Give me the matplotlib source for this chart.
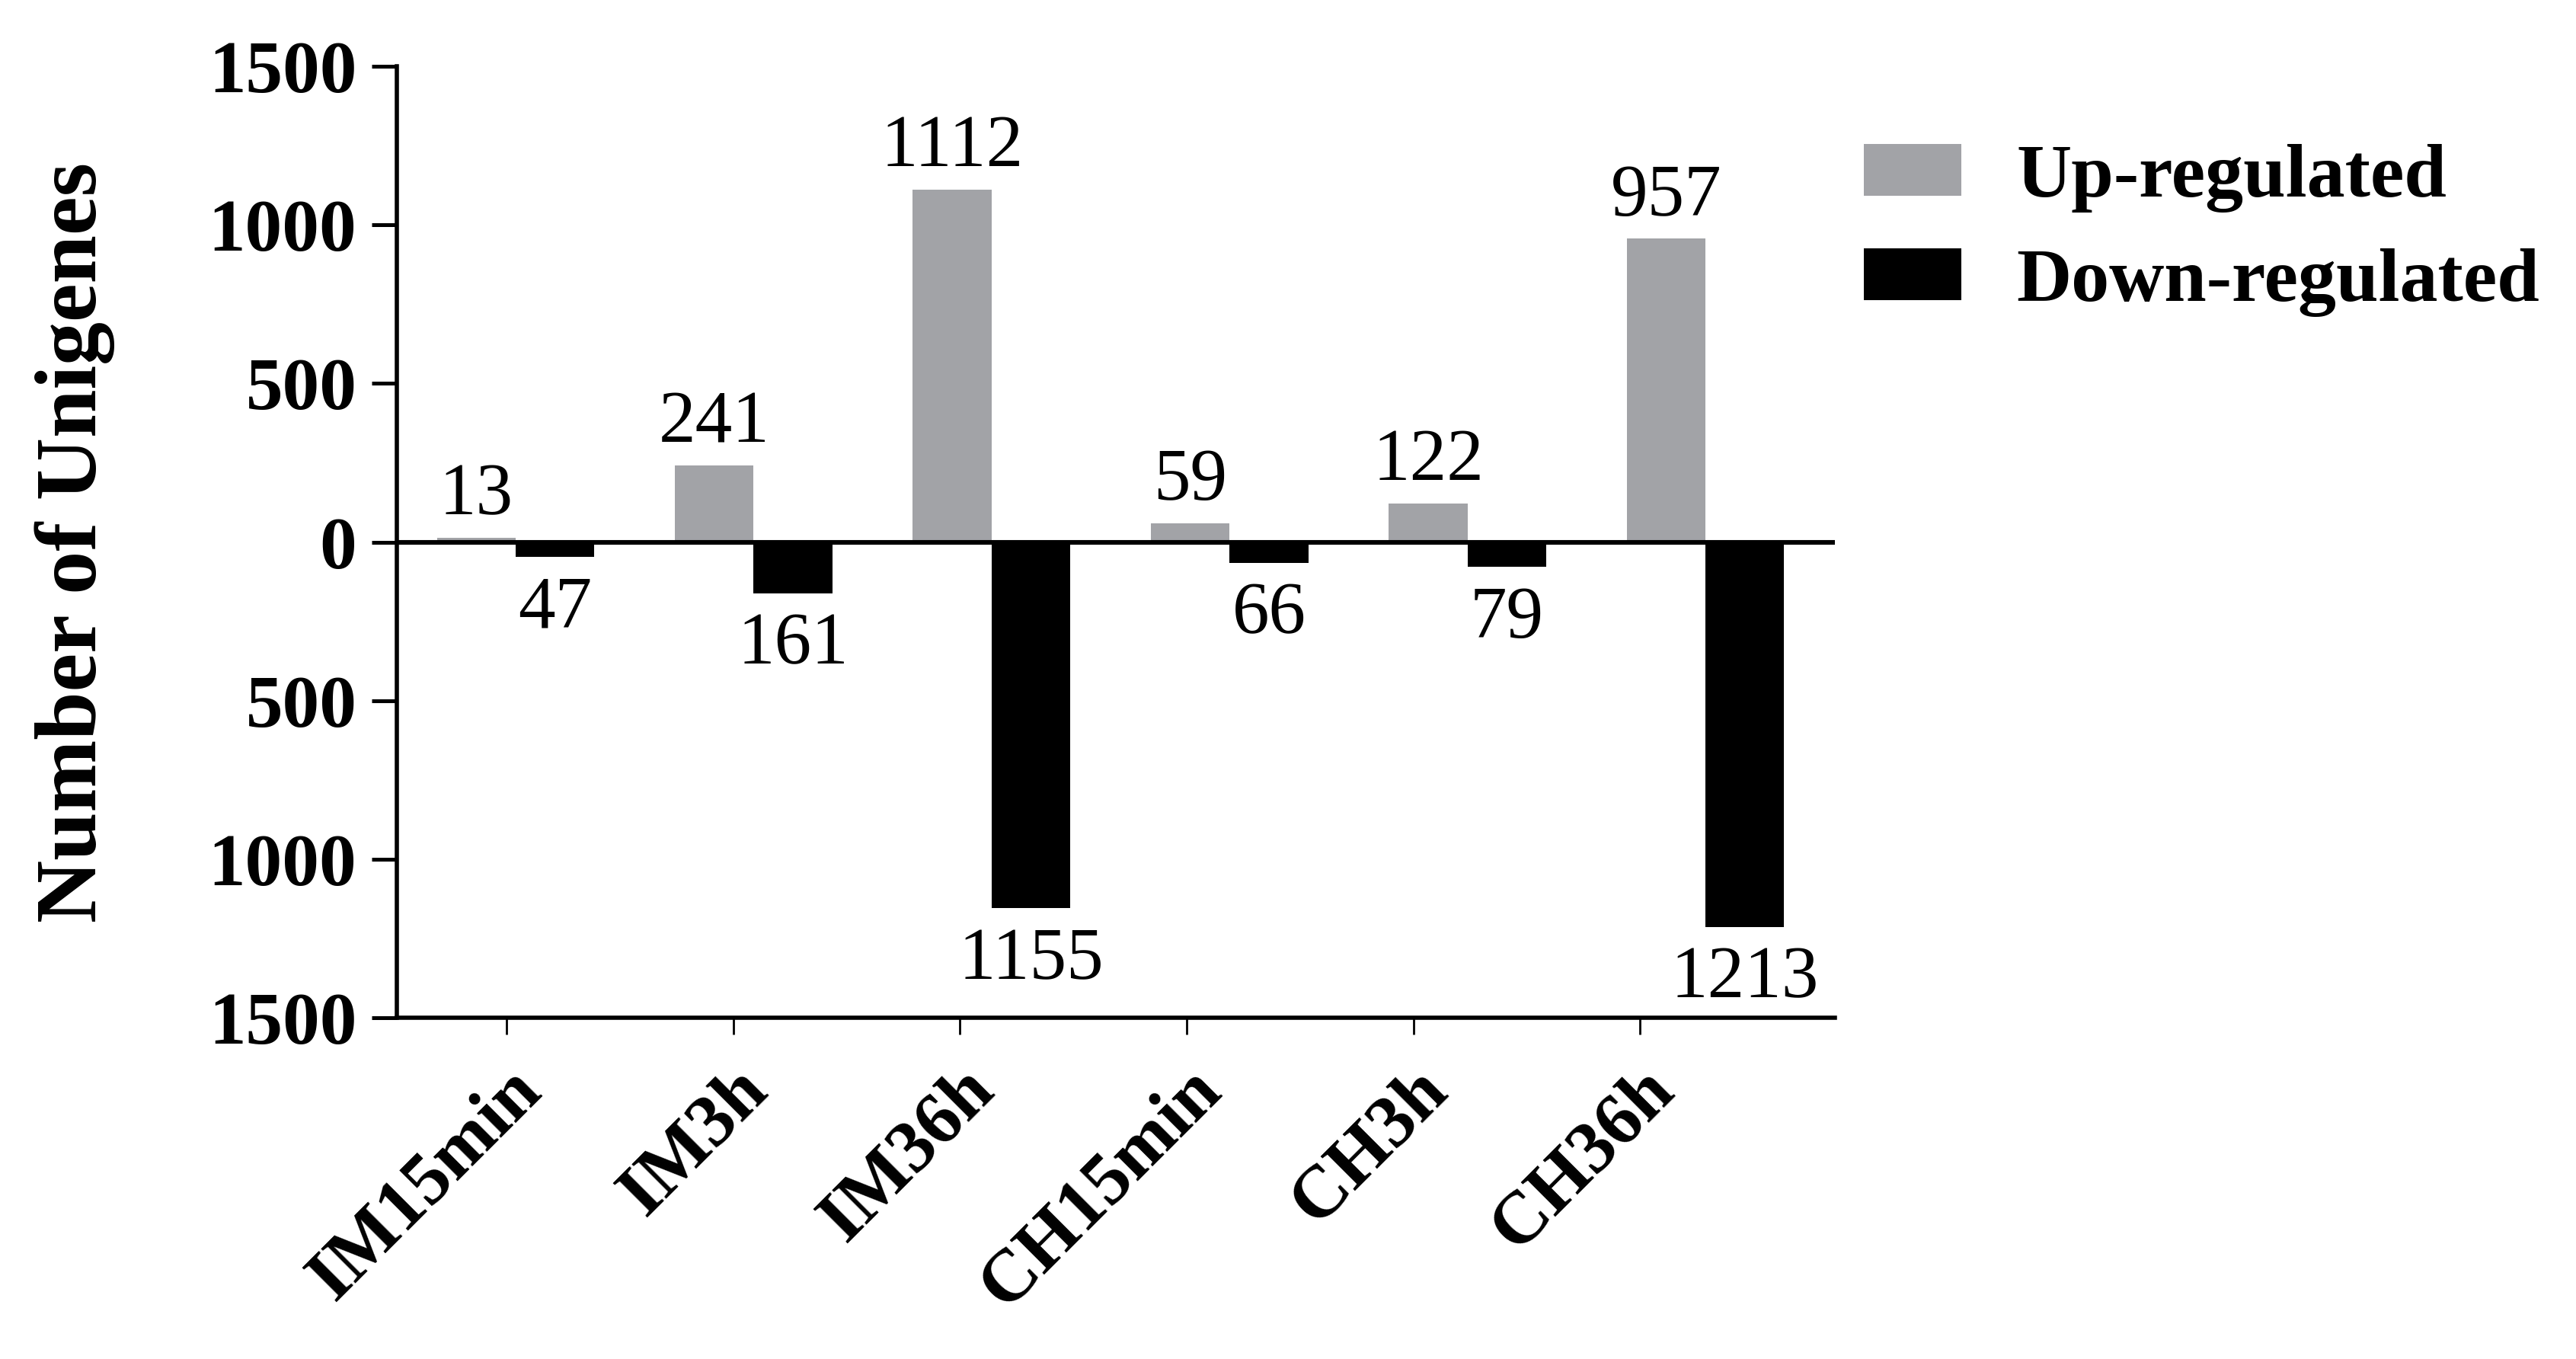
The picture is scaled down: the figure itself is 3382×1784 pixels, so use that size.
import numpy as np
import matplotlib
matplotlib.use("Agg")
import matplotlib.pyplot as plt
from matplotlib.patches import Patch
from matplotlib.ticker import FuncFormatter

plt.rcParams['font.family'] = ['Liberation Serif', 'DejaVu Serif']

# ---- data ----
categories = ['IM15min', 'IM3h', 'IM36h', 'CH15min', 'CH3h', 'CH36h']
up_regulated = [13, 241, 1112, 59, 122, 957]
down_regulated = [47, 161, 1155, 66, 79, 1213]
series_names = ['Up-regulated', 'Down-regulated']
y_ticks = [-1500, -1000, -500, 0, 500, 1000, 1500]

# ---- style ----
UP_COLOR = '#a2a3a7'
DOWN_COLOR = '#000000'
BAR_W = 0.331
TICK_START, TICK_STEP = -0.038, 0.9526   # category tick layout (Prism-like offset)
FS = 35

fig = plt.figure(figsize=(3382 / 200, 1784 / 200), dpi=200)
ax = fig.add_axes([0.1541, 0.2511, 0.7123 - 0.1541, 0.9512 - 0.2511])

x = np.arange(len(categories))
up_vals = np.array(up_regulated)
down_vals = -np.array(down_regulated)

b_up = ax.bar(x - BAR_W / 2, up_vals, width=BAR_W, color=UP_COLOR, linewidth=0)
b_dn = ax.bar(x + BAR_W / 2, down_vals, width=BAR_W, color=DOWN_COLOR, linewidth=0)

for rect, v in zip(b_up, up_regulated):
    ax.annotate(str(v), (rect.get_x() + rect.get_width() / 2,
                         rect.get_y() + rect.get_height()),
                xytext=(0, 11), textcoords='offset points', ha='center',
                va='baseline', fontsize=FS)
for rect, v in zip(b_dn, down_regulated):
    ax.annotate(str(v), (rect.get_x() + rect.get_width() / 2,
                         rect.get_y() + rect.get_height()),
                xytext=(0, -9), textcoords='offset points', ha='center',
                va='top', fontsize=FS)

ax.axhline(0, color='black', lw=2.2, zorder=3)

ax.set_xlim(-0.499, 5.544)
ax.set_ylim(-1500, 1500)
ax.set_yticks(y_ticks)
ax.yaxis.set_major_formatter(FuncFormatter(lambda v, p: f"{abs(int(v))}"))

tick_pos = TICK_START + TICK_STEP * x
ax.set_xticks(tick_pos)
ax.set_xticklabels(categories, rotation=45, ha='right', va='top',
                   rotation_mode='anchor', fontsize=FS, fontweight='bold')

for s in ['top', 'right']:
    ax.spines[s].set_visible(False)
for s in ['left', 'bottom']:
    ax.spines[s].set_linewidth(2.0)

ax.tick_params(axis='y', direction='out', length=12, width=1.8, pad=7,
               labelsize=FS)
ax.tick_params(axis='x', direction='out', length=8, width=1.0, pad=10,
               labelsize=FS)
for lab in ax.get_yticklabels():
    lab.set_fontweight('bold')

ax.set_ylabel('Number of Unigenes', fontsize=41, fontweight='bold')
ax.yaxis.set_label_coords(-0.196, 0.5)

handles = [Patch(facecolor=UP_COLOR, edgecolor='none'),
           Patch(facecolor=DOWN_COLOR, edgecolor='none')]
fig.legend(handles, series_names, loc='upper left',
           bbox_to_anchor=(2447 / 3382, 1 - 189 / 1784),
           frameon=False, prop={'size': 36, 'weight': 'bold'},
           handlelength=1.28, handleheight=0.67, handletextpad=0.72,
           labelspacing=0.47, borderpad=0, borderaxespad=0)

fig.savefig('out.png', dpi=200)
